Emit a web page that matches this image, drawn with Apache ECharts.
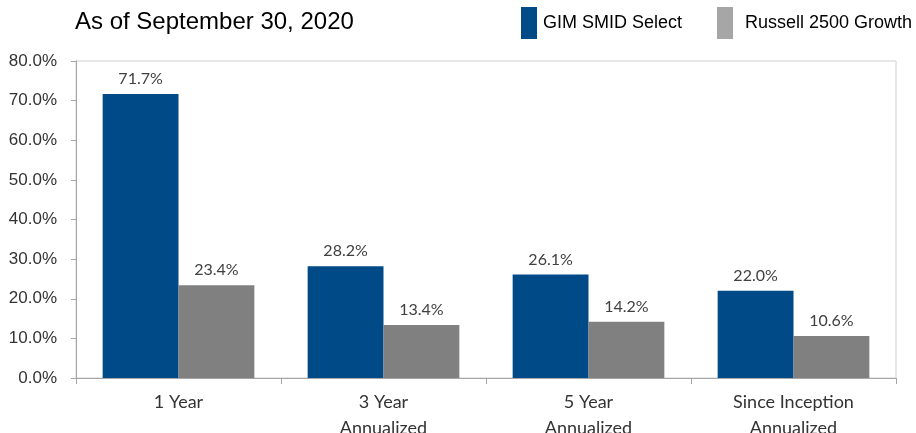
<!DOCTYPE html>
<html>
<head>
<meta charset="utf-8">
<script src="https://cdn.jsdelivr.net/npm/echarts@6/dist/echarts.min.js"></script>
<style>
  html, body { margin: 0; padding: 0; background: #fff; }
  #chart { width: 916px; height: 433px; }
</style>
</head>
<body>
<div id="chart"></div>
<script>
const categories = ['1 Year', '3 Year\nAnnualized', '5 Year\nAnnualized', 'Since Inception\nAnnualized'];
const gimValues = [71.7, 28.2, 26.1, 22.0];
const russellValues = [23.4, 13.4, 14.2, 10.6];
const seriesNames = ['GIM SMID Select', 'Russell 2500 Growth'];

const BLUE = '#004a87';
const GRAY = '#808080';

const labelFont = 'Lato, "Open Sans", sans-serif';
const arial = '"Liberation Sans", Arial, sans-serif';

const chart = echarts.init(document.getElementById('chart'));

chart.setOption({
  animation: false,
  title: {
    text: 'As of September 30, 2020',
    left: 70,
    top: 5,
    textStyle: {
      fontFamily: arial,
      fontSize: 24,
      fontWeight: 'normal',
      color: '#000'
    }
  },
  legend: {
    left: 516,
    top: 2,
    width: 600,
    itemWidth: 16,
    itemHeight: 32,
    itemGap: 35,
    icon: 'rect',
    textStyle: {
      fontFamily: arial,
      fontSize: 18,
      color: '#000',
      padding: [0, 0, 0, 1]
    },
    data: [
      { name: seriesNames[0], itemStyle: { color: BLUE } },
      {
        name: seriesNames[1],
        itemStyle: { color: '#a6a6a6' },
        textStyle: { padding: [0, 0, 0, 7] }
      }
    ]
  },
  grid: {
    left: 76,
    right: 20,
    top: 61,
    bottom: 55,
    outerBoundsMode: 'none',
    show: true,
    borderColor: '#d0d0d0',
    borderWidth: 1
  },
  xAxis: {
    type: 'category',
    data: categories,
    axisLine: { lineStyle: { color: '#a6a6a6' } },
    axisTick: { show: true, length: 6, lineStyle: { color: '#a6a6a6' } },
    axisLabel: {
      fontFamily: labelFont,
      fontSize: 18,
      color: '#333',
      margin: 11,
      lineHeight: 26
    }
  },
  yAxis: {
    type: 'value',
    min: 0,
    max: 80,
    interval: 10,
    axisLine: { show: true, lineStyle: { color: '#a6a6a6' } },
    axisTick: { show: true, length: 5, lineStyle: { color: '#a6a6a6' } },
    splitLine: { show: false },
    axisLabel: {
      fontFamily: arial,
      fontSize: 17,
      color: '#333',
      margin: 19,
      formatter: v => v.toFixed(1) + '%'
    }
  },
  series: [
    {
      name: seriesNames[0],
      type: 'bar',
      data: gimValues,
      barGap: 0,
      barCategoryGap: '26%',
      itemStyle: { color: BLUE },
      label: {
        show: true,
        position: 'top',
        distance: 7,
        fontFamily: labelFont,
        fontSize: 16,
        color: '#404040',
        formatter: p => p.value.toFixed(1) + '%'
      }
    },
    {
      name: seriesNames[1],
      type: 'bar',
      data: russellValues,
      itemStyle: { color: GRAY },
      label: {
        show: true,
        position: 'top',
        distance: 7,
        fontFamily: labelFont,
        fontSize: 16,
        color: '#404040',
        formatter: p => p.value.toFixed(1) + '%'
      }
    }
  ]
});
</script>
</body>
</html>
